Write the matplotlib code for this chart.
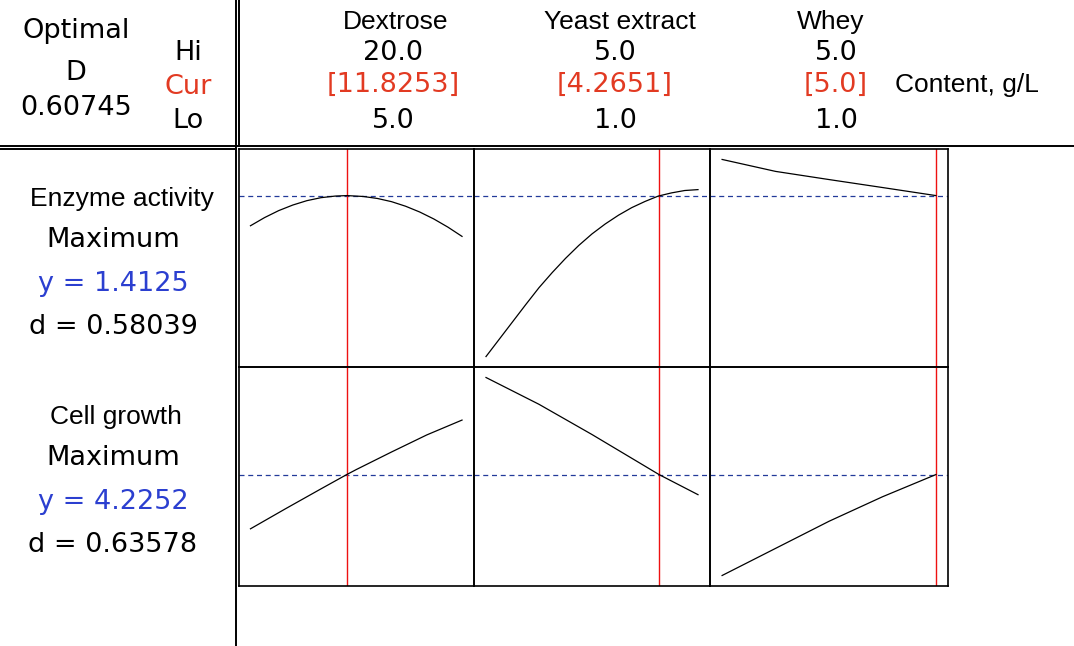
import numpy as np
import matplotlib
matplotlib.use("Agg")
import matplotlib.pyplot as plt
from matplotlib.lines import Line2D

# factors (low, high, current setting)
factors = ["Dextrose", "Yeast extract", "Whey"]
hi_vals = ["20.0", "5.0", "5.0"]
cur_vals = ["[11.8253]", "[4.2651]", "[5.0]"]
lo_vals = ["5.0", "1.0", "1.0"]
lo_num = [5.0, 1.0, 1.0]
hi_num = [20.0, 5.0, 5.0]
cur_num = [11.8253, 4.2651, 5.0]

# responses
responses = ["Enzyme activity", "Cell growth"]
goals = ["Maximum", "Maximum"]
y_opt = [1.4125, 4.2252]
d_vals = [0.58039, 0.63578]
D_total = 0.60745

# response traces (x in g/L)
dex_x = [5, 6, 7, 8, 9, 10, 11, 11.8253, 13, 14, 15, 16, 17, 18, 19, 20]
enz_dex = [1.261, 1.302, 1.337, 1.365, 1.387, 1.402, 1.410, 1.4125,
           1.408, 1.398, 1.382, 1.359, 1.330, 1.295, 1.254, 1.2075]

yeast_x = [1.0, 1.25, 1.5, 1.75, 2.0, 2.25, 2.5, 2.75, 3.0,
           3.25, 3.5, 3.75, 4.0, 4.25, 4.5, 4.75, 5.0]
enz_yeast = [0.604, 0.691, 0.778, 0.865, 0.950, 1.026, 1.097, 1.162, 1.220,
             1.270, 1.314, 1.352, 1.383, 1.410, 1.426, 1.438, 1.4425]

whey_x = [1.0, 2.0, 3.0, 4.0, 5.0]
enz_whey = [1.594, 1.534, 1.493, 1.453, 1.4125]

cell_dex_x = [5.0, 7.5, 10.0, 11.8253, 12.5, 15.0, 17.5, 20.0]
cell_dex = [3.685, 3.886, 4.083, 4.2252, 4.275, 4.45, 4.62, 4.768]
cell_yeast_x = [1.0, 2.0, 3.0, 4.0, 4.2651, 5.0]
cell_yeast = [5.192, 4.925, 4.624, 4.309, 4.2252, 4.025]
cell_whey = [3.22, 3.49, 3.76, 4.004, 4.2252]

traces = [
    [(dex_x, enz_dex), (yeast_x, enz_yeast), (whey_x, enz_whey)],
    [(cell_dex_x, cell_dex), (cell_yeast_x, cell_yeast), (whey_x, cell_whey)],
]

W, H = 1074, 646
fig = plt.figure(figsize=(W / 100, H / 100), dpi=100)

gulim = ["DejaVu Sans"]
arial = ["Liberation Sans", "DejaVu Sans"]
red = "#e23a22"
blue = "#2b3fd0"

bg = fig.add_axes([0, 0, 1, 1])
bg.set_xlim(0, W)
bg.set_ylim(H, 0)
bg.axis("off")

# frame lines of the layout
lw = 1.4
bg.add_line(Line2D([236, 236], [0, H], color="black", lw=lw))
bg.add_line(Line2D([239, 239], [0, 146], color="black", lw=lw))
bg.add_line(Line2D([0, W], [146, 146], color="black", lw=lw))
bg.add_line(Line2D([0, 236], [149, 149], color="black", lw=lw))

# header: optimal D and Hi / Cur / Lo
fs = 19.5
afs = 19
bg.text(76, 31, "Optimal", ha="center", va="center", fontsize=fs, family=gulim)
bg.text(76, 73, "D", ha="center", va="center", fontsize=fs, family=gulim)
bg.text(76, 108, f"{D_total:.5f}", ha="center", va="center", fontsize=fs, family=gulim)
bg.text(188, 53, "Hi", ha="center", va="center", fontsize=fs, family=gulim)
bg.text(188, 87, "Cur", ha="center", va="center", fontsize=fs, family=gulim, color=red)
bg.text(188, 121, "Lo", ha="center", va="center", fontsize=fs, family=gulim)

name_x = [396, 620, 831]
val_x = [393, 615, 836]
for i in range(3):
    bg.text(name_x[i], 22, factors[i], ha="center", va="center", fontsize=afs, family=arial)
    bg.text(val_x[i], 53, hi_vals[i], ha="center", va="center", fontsize=fs, family=gulim)
    bg.text(val_x[i], 85, cur_vals[i], ha="center", va="center", fontsize=fs, family=gulim, color=red)
    bg.text(val_x[i], 121, lo_vals[i], ha="center", va="center", fontsize=fs, family=gulim)
bg.text(967, 85, "Content, g/L", ha="center", va="center", fontsize=afs, family=arial)

# left column: responses
row_top = [199, 417]
name_cx = [122, 116]
for r in range(2):
    y0 = row_top[r]
    bg.text(name_cx[r], y0, responses[r], ha="center", va="center", fontsize=afs, family=arial)
    bg.text(113, y0 + 41, goals[r], ha="center", va="center", fontsize=fs, family=gulim)
    bg.text(113, y0 + 85, f"y = {y_opt[r]:.4f}", ha="center", va="center", fontsize=fs,
            family=gulim, color=blue)
    bg.text(113, y0 + 128, f"d = {d_vals[r]:.5f}", ha="center", va="center", fontsize=fs,
            family=gulim)

# panels
col_edges = [238.5, 474, 710, 948]
row_edges = [149, 367, 586]
for r in range(2):
    all_y = np.concatenate([np.asarray(t[1]) for t in traces[r]])
    ymin, ymax = all_y.min(), all_y.max()
    pad = (ymax - ymin) * 0.053
    for c in range(3):
        x0, x1 = col_edges[c], col_edges[c + 1]
        top, bot = row_edges[r], row_edges[r + 1]
        ax = fig.add_axes([x0 / W, 1 - bot / H, (x1 - x0) / W, (bot - top) / H])
        xs, ys = traces[r][c]
        xpad = (hi_num[c] - lo_num[c]) * 12 / 212
        ax.set_xlim(lo_num[c] - xpad, hi_num[c] + xpad)
        ax.set_ylim(ymin - pad, ymax + pad)
        ax.axhline(y_opt[r], color="#233a9a", lw=0.9, ls=(0, (4, 3)), zorder=1)
        ax.axvline(cur_num[c], color="#ee1111", lw=1.0, zorder=2)
        ax.plot(xs, ys, color="black", lw=0.9, zorder=3)
        ax.set_xticks([])
        ax.set_yticks([])
        for s in ax.spines.values():
            s.set_linewidth(1.2)
            s.set_color("black")
        ax.patch.set_alpha(0)

fig.savefig("out.png", dpi=100)
